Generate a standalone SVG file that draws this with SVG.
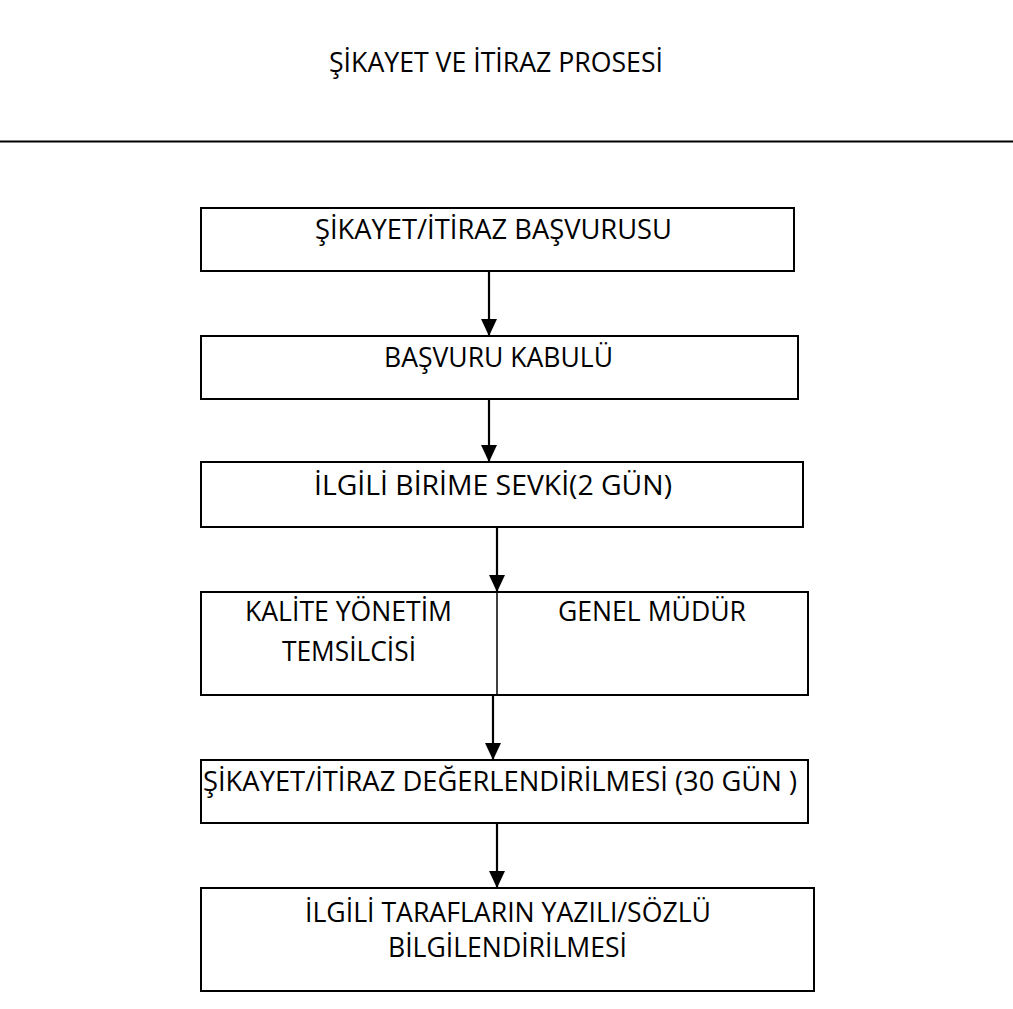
<svg xmlns="http://www.w3.org/2000/svg" width="1013" height="1009" viewBox="0 0 1013 1009">
<defs>
<style>
.t{font-family:"Open Sans","Noto Sans","DejaVu Sans",sans-serif;font-size:28px;fill:#000}
.b{fill:#fff;stroke:#000;stroke-width:2}
.c{stroke:#000;stroke-width:2.2;fill:none}
</style>
<marker id="ah" markerWidth="17" markerHeight="16" refX="17" refY="8" orient="auto" markerUnits="userSpaceOnUse">
<path d="M0,0 L17,8 L0,16 Z" fill="#000"/>
</marker>
</defs>
<rect width="1013" height="1009" fill="#fff"/>
<g id="title">
<text class="t" x="329" y="72" textLength="334" lengthAdjust="spacingAndGlyphs">ŞİKAYET VE İTİRAZ PROSESİ</text>
<line x1="0" y1="141.5" x2="1013" y2="141.5" stroke="#000" stroke-width="1.8"/>
</g>
<g id="connectors">
<line class="c" x1="489" y1="272" x2="489" y2="336" marker-end="url(#ah)"/>
<line class="c" x1="489" y1="400" x2="489" y2="462" marker-end="url(#ah)"/>
<line class="c" x1="497" y1="528" x2="497" y2="592" marker-end="url(#ah)"/>
<line class="c" x1="493" y1="696" x2="493" y2="760" marker-end="url(#ah)"/>
<line class="c" x1="497" y1="824" x2="497" y2="888" marker-end="url(#ah)"/>
</g>
<g id="n1">
<rect class="b" x="201" y="208" width="593" height="63"/>
<text class="t" x="315" y="239" textLength="357" lengthAdjust="spacingAndGlyphs">ŞİKAYET/İTİRAZ BAŞVURUSU</text>
</g>
<g id="n2">
<rect class="b" x="201" y="336" width="597" height="63"/>
<text class="t" x="384" y="367" textLength="229" lengthAdjust="spacingAndGlyphs">BAŞVURU KABULÜ</text>
</g>
<g id="n3">
<rect class="b" x="201" y="462" width="602" height="65"/>
<text class="t" x="314" y="495" textLength="358" lengthAdjust="spacingAndGlyphs">İLGİLİ BİRİME SEVKİ(2 GÜN)</text>
</g>
<g id="n4">
<rect class="b" x="201" y="592" width="607" height="103"/>
<line x1="497" y1="592" x2="497" y2="695" stroke="#000" stroke-width="1.5"/>
<text class="t" x="245" y="621" textLength="207" lengthAdjust="spacingAndGlyphs">KALİTE YÖNETİM</text>
<text class="t" x="282" y="661" textLength="134" lengthAdjust="spacingAndGlyphs">TEMSİLCİSİ</text>
<text class="t" x="558" y="621" textLength="188" lengthAdjust="spacingAndGlyphs">GENEL MÜDÜR</text>
</g>
<g id="n5">
<rect class="b" x="201" y="760" width="607" height="63"/>
<text class="t" x="203" y="791" textLength="594" lengthAdjust="spacingAndGlyphs">ŞİKAYET/İTİRAZ DEĞERLENDİRİLMESİ (30 GÜN )</text>
</g>
<g id="n6">
<rect class="b" x="201" y="888" width="613" height="103"/>
<text class="t" x="305" y="922" textLength="406" lengthAdjust="spacingAndGlyphs">İLGİLİ TARAFLARIN YAZILI/SÖZLÜ</text>
<text class="t" x="388" y="957" textLength="239" lengthAdjust="spacingAndGlyphs">BİLGİLENDİRİLMESİ</text>
</g>
</svg>
